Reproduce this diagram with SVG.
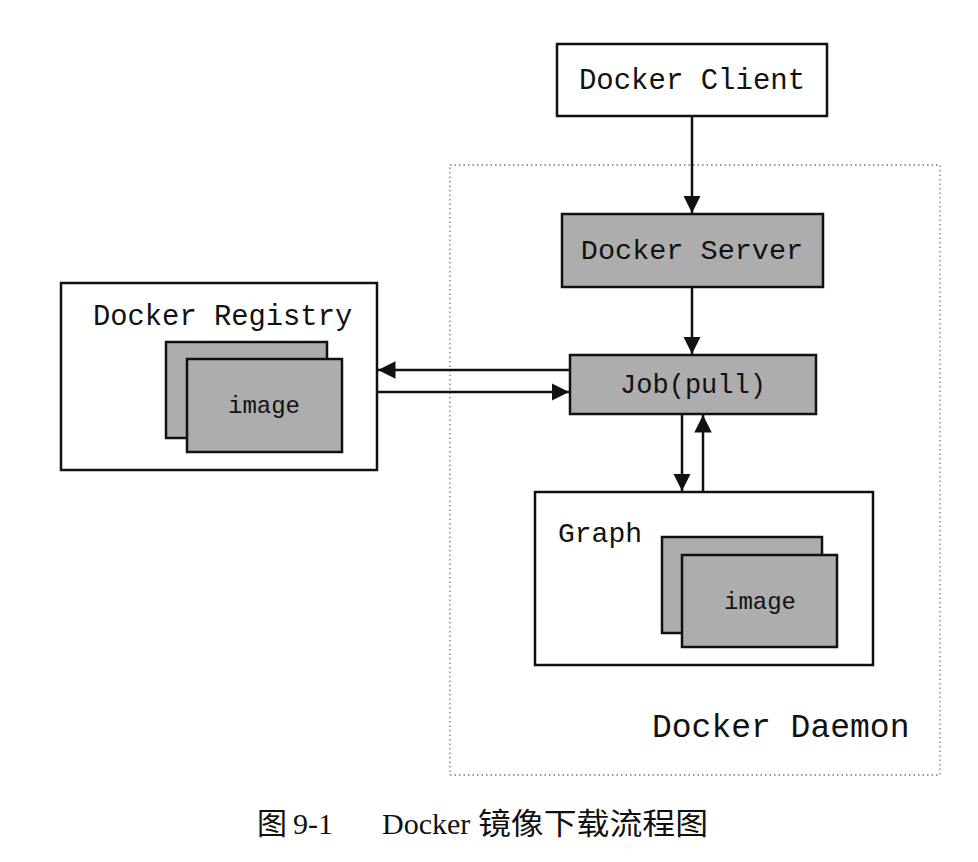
<svg xmlns="http://www.w3.org/2000/svg" width="978" height="862" viewBox="0 0 978 862">
<style>
.box{fill:#fff;stroke:#111;stroke-width:2.5}
.gbox{fill:#adadad;stroke:#111;stroke-width:2.5}
.t{font-family:"Liberation Mono",monospace;fill:#111}
.cap{font-family:"Liberation Serif","Noto Sans CJK SC",serif;fill:#111;font-size:30px}
.ln{stroke:#111;stroke-width:2.5;fill:none}
</style>
<defs>
<marker id="ah" viewBox="0 0 10 10" refX="10" refY="5" markerWidth="6" markerHeight="6" markerUnits="userSpaceOnUse" orient="auto">
<path d="M0,0 L10,5 L0,10 Z" fill="#111"/>
</marker>
<marker id="ah2" viewBox="0 0 10 10" refX="10" refY="5" markerWidth="7" markerHeight="7" orient="auto">
<path d="M0,0 L10,5 L0,10 Z" fill="#111"/>
</marker>
</defs>
<g id="daemon">
<rect x="450" y="165" width="490" height="610" fill="none" stroke="#777" stroke-width="1.3" stroke-dasharray="1.5 3"/>
<text class="t" x="652" y="737" font-size="33">Docker Daemon</text>
</g>
<g id="client">
<rect class="box" x="557" y="44" width="270" height="72"/>
<text class="t" x="692" y="89" font-size="29" text-anchor="middle">Docker Client</text>
</g>
<g id="server">
<rect class="gbox" x="562" y="214" width="261" height="73"/>
<text class="t" x="692" y="259" font-size="28.5" text-anchor="middle">Docker Server</text>
</g>
<g id="job">
<rect class="gbox" x="570" y="355" width="246" height="59"/>
<text class="t" x="693" y="393" font-size="27" text-anchor="middle">Job(pull)</text>
</g>
<g id="registry">
<rect class="box" x="61" y="283" width="316" height="187"/>
<text class="t" x="93" y="325" font-size="28.8">Docker Registry</text>
<rect class="gbox" x="166" y="342" width="161" height="96"/>
<rect class="gbox" x="187" y="359" width="155" height="93"/>
<text class="t" x="264" y="413" font-size="24" text-anchor="middle">image</text>
</g>
<g id="graph">
<rect class="box" x="535" y="492" width="338" height="173"/>
<text class="t" x="558" y="542" font-size="28">Graph</text>
<rect class="gbox" x="662" y="537" width="160" height="96"/>
<rect class="gbox" x="682" y="555" width="155" height="92"/>
<text class="t" x="760" y="609" font-size="24" text-anchor="middle">image</text>
</g>
<g id="connectors">
<line class="ln" x1="692" y1="116" x2="692" y2="213" marker-end="url(#ah2)"/>
<line class="ln" x1="692" y1="287" x2="692" y2="354" marker-end="url(#ah2)"/>
<line class="ln" x1="570" y1="370" x2="378" y2="370" marker-end="url(#ah2)"/>
<line class="ln" x1="377" y1="392" x2="569" y2="392" marker-end="url(#ah2)"/>
<line class="ln" x1="682" y1="414" x2="682" y2="491" marker-end="url(#ah2)"/>
<line class="ln" x1="703" y1="492" x2="703" y2="415" marker-end="url(#ah2)"/>
</g>
<g id="caption">
<text class="cap" y="834"><tspan x="257">图</tspan><tspan x="293">9-1</tspan><tspan x="382">Docker</tspan><tspan x="478" textLength="230" lengthAdjust="spacingAndGlyphs">镜像下载流程图</tspan></text>
</g>
</svg>
